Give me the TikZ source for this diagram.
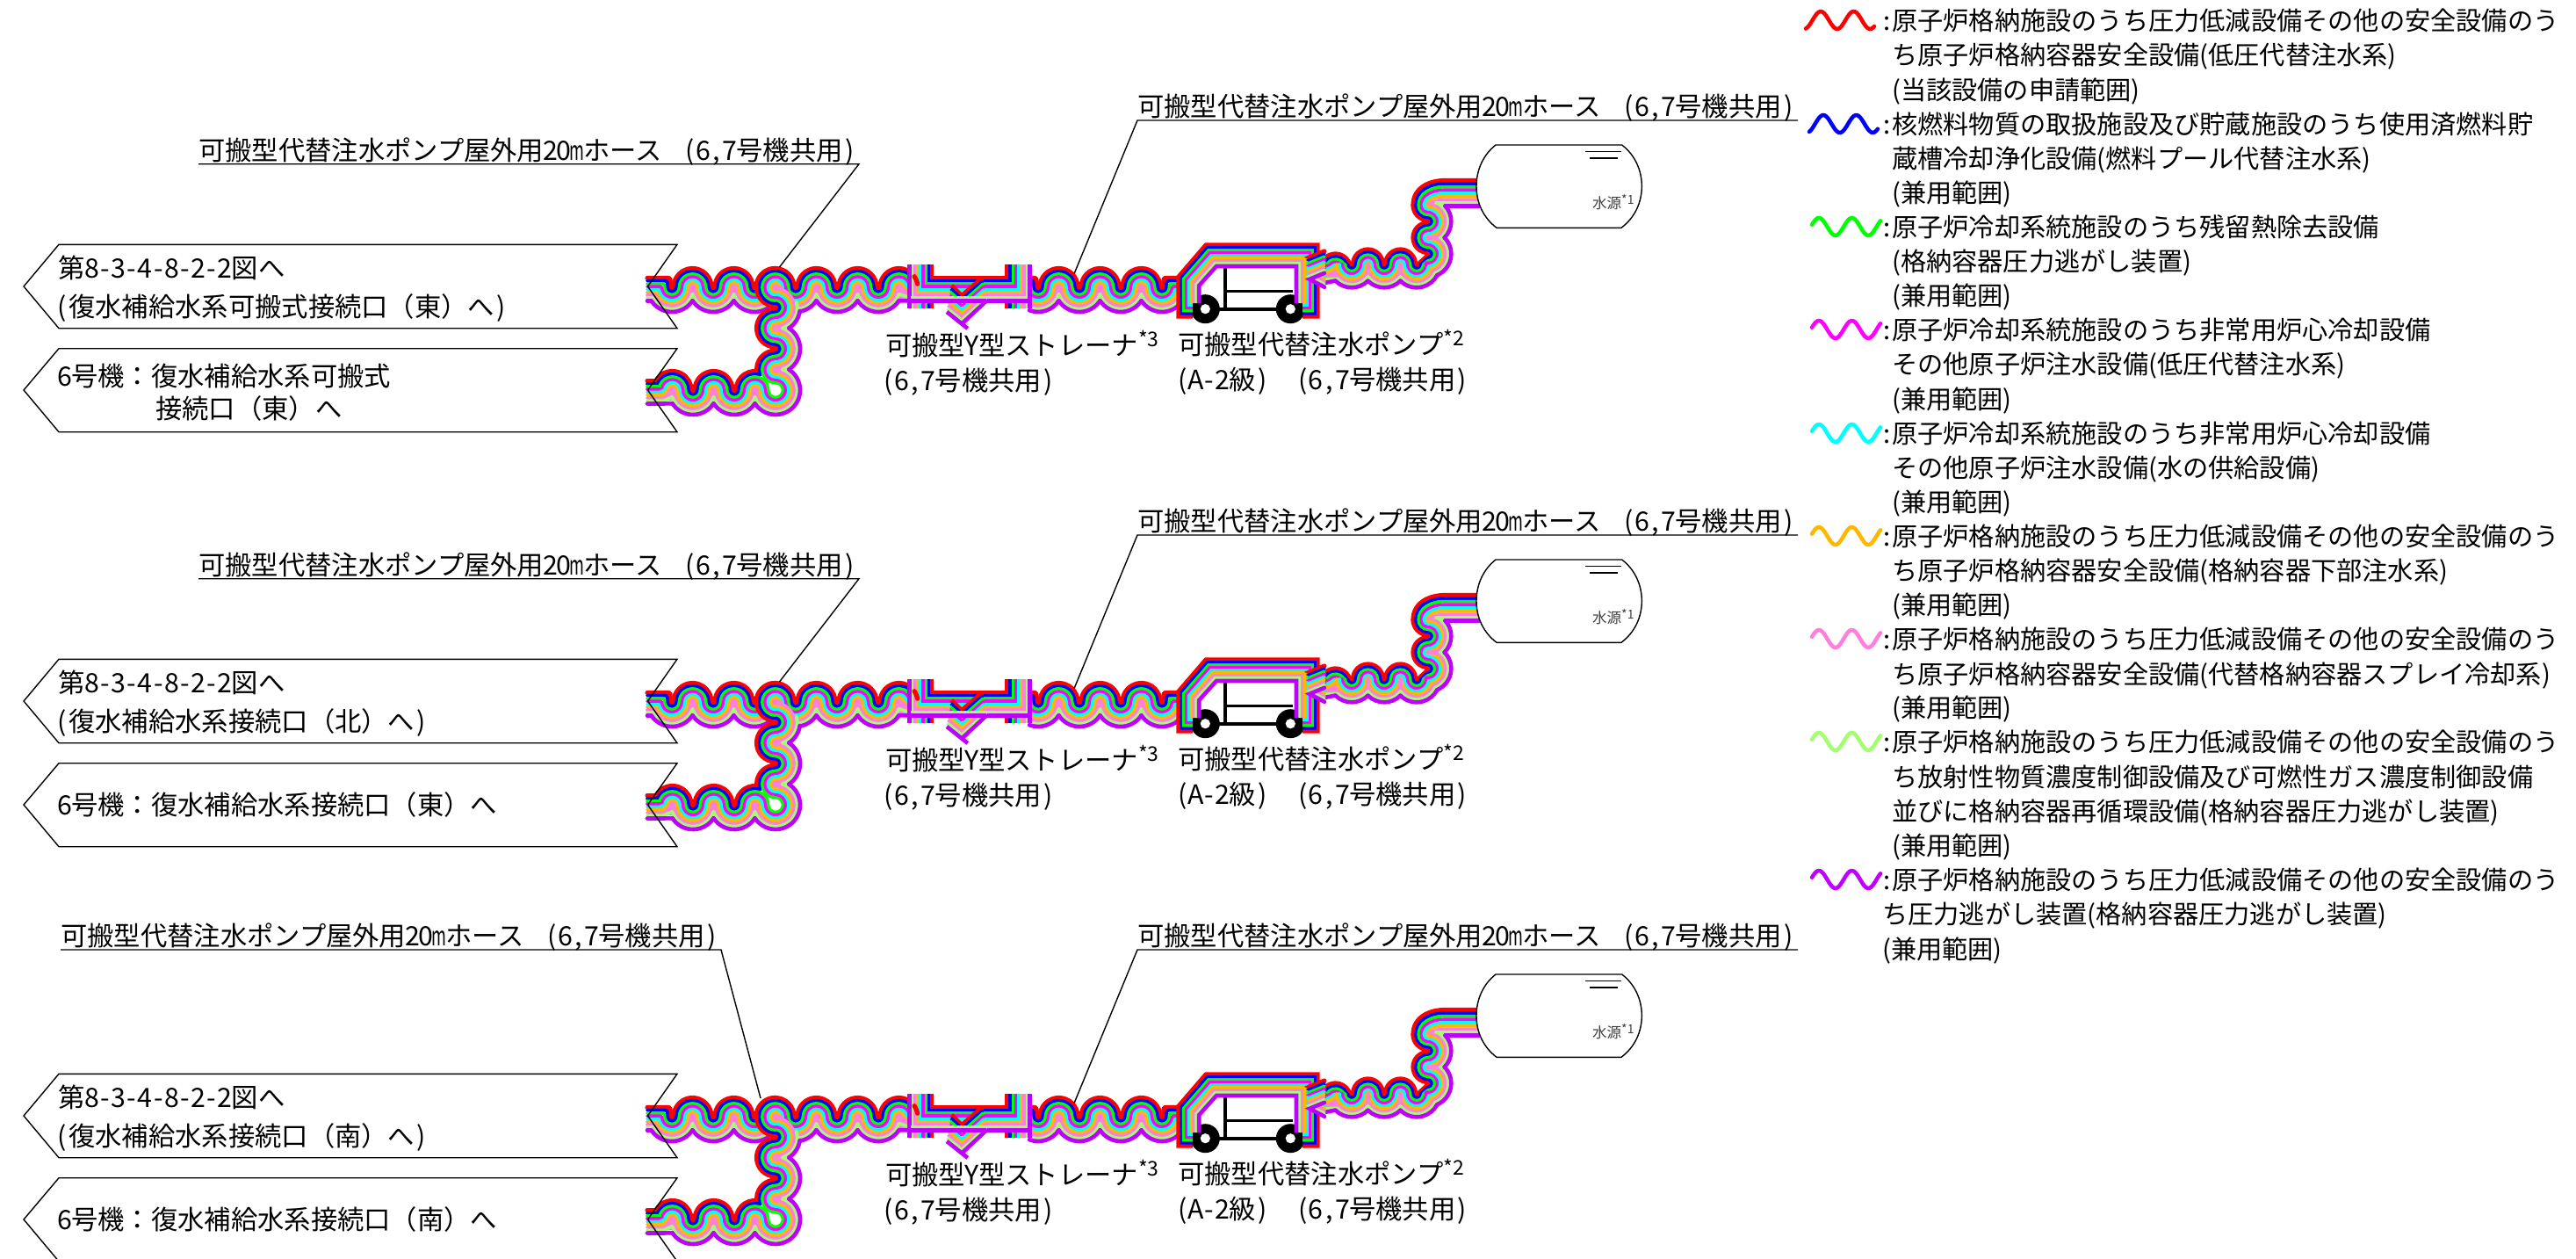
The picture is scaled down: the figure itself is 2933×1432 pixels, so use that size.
\documentclass[tikz,border=0pt]{standalone}
\usepackage{graphicx}
\usepackage{fontspec}
\setmainfont{Noto Sans CJK JP}
\definecolor{h0}{HTML}{FF0000}
\definecolor{h1}{HTML}{0000FF}
\definecolor{h2}{HTML}{00FF00}
\definecolor{h3}{HTML}{FF00FF}
\definecolor{h4}{HTML}{00FFFF}
\definecolor{h5}{HTML}{FFB800}
\definecolor{h6}{HTML}{FF80DC}
\definecolor{h7}{HTML}{A4FF70}
\definecolor{h8}{HTML}{C000FF}
\tikzset{
 hose/.style={draw=h\i,line width=\lw pt,line cap=round,line join=round},
 hoseb/.style={draw=h\i,line width=\lw pt,line cap=butt,line join=miter},
 lab/.style={anchor=base west,inner sep=0pt,font=\fontsize{30.3}{36}\selectfont},
 leg/.style={anchor=base west,inner sep=0pt,font=\fontsize{29.2}{36}\selectfont},
 thinl/.style={draw=black,line width=1.4pt,line join=miter},
 legw/.style={line width=4.5pt,line cap=round}
}
\newcommand\hw[1]{\makebox[15.15pt][c]{#1}}
\newcommand\sx{\hw{6}\hw{,}\hw{7}}
\newcommand\fig{\hw{8}\hw{-}\hw{3}\hw{-}\hw{4}\hw{-}\hw{8}\hw{-}\hw{2}\hw{-}\hw{2}}
\newcommand\hosetxt{可搬型代替注水ポンプ屋外用\hw{2}\hw{0}\hw{\scalebox{.6}[1]{m}}ホース\hspace{24pt}\hw{(}\sx 号機共用\hw{)}}
\newcommand\supr[1]{\raisebox{.33em}{\fontsize{23}{23}\selectfont #1}}
\newcommand\SetW{\ifnum\i=0 \def\lw{5.2}\else\ifnum\i=8 \def\lw{4.6}\else\def\lw{3.7}\fi\fi}
\newcommand\SetR[3]{\pgfmathsetmacro\ru{#1-#2*\i}\pgfmathsetmacro\rd{#3-\ru}\def\hh{#3}%
 \ifdim\ru pt>0.05pt \def\aS{180}\def\aE{360}\else
 \pgfmathsetmacro\ph{asin(\hh/\rd)}\pgfmathsetmacro\aS{270-\ph}\pgfmathsetmacro\aE{270+\ph}\fi}
\newcommand\Arc[5]{\draw[hose] ({#1+(#3)*cos(#4)},{-(#2)+(#3)*sin(#4)}) arc[start angle={#4},end angle={#5},radius={(#3)*1pt}];}
\newcommand\Hump[3]{\ifdim\ru pt>0.05pt \Arc{#1}{#2}{\ru}{180+#3}{#3}\fi
 \ifnum\i=6 \draw[hose,line width=5pt] (#1,{-(#2)}) -- ({#1+6*sin(#3)},{-(#2)-6*cos(#3)});\fi}
\newcommand\Dip[3]{\Arc{#1}{#2}{\rd}{\aS+#3}{\aE+#3}}
\newcommand\StubIn[3]{\pgfmathsetmacro\off{-10.5+3.25*\i}\pgfmathsetmacro\yy{#2+\off}%
 \ifnum\i<4
  \draw[hose,rounded corners=2pt] ({#3},{-\yy}) -- ({#1-\rd},{-\yy}) -- ({#1-\rd},{-(#2)});
  \Arc{#1}{#2}{\rd}{180}{\aE}
 \else
  \pgfmathsetmacro\aa{max(180+asin(\off/\rd),180+acos(min((#1-#3)/\rd,1)))}%
  \pgfmathsetmacro\px{#1+\rd*cos(\aa)}%
  \ifdim\px pt>#3pt \draw[hose] ({#3},{-\yy}) -- (\px,{-\yy}); \fi
  \Arc{#1}{#2}{\rd}{\aa}{\aE}
 \fi}
\newcommand\DipOut[3]{\pgfmathsetmacro\off{-10.5+3.25*\i}\pgfmathsetmacro\yy{#2+\off}%
 \ifnum\i<4
  \Arc{#1}{#2}{\rd}{\aS}{360}
  \draw[hose,rounded corners=2pt] ({#1+\rd},{-(#2)}) -- ({#1+\rd},{-\yy}) -- ({#3},{-\yy});
 \else
  \pgfmathsetmacro\aa{360-asin(\off/\rd)}%
  \Arc{#1}{#2}{\rd}{\aS}{\aa}
  \draw[hose] ({#1+\rd*cos(\aa)},{-\yy}) -- ({#3},{-\yy});
 \fi}
\newcommand\Block[1]{%
 % underlays that close small wedges between the bands
 \fill[h6] (1023,-327) rectangle (1037,-341);
 \fill[h6] (750,-444) rectangle (765.5,-456);
 % ---- left run to the strainer
 \foreach \i in {0,...,8}{\SetW\SetR{21.5}{3.25}{23.5}%
  \StubIn{765}{327}{737}
  \Hump{788.5}{327}{0}\Dip{812}{327}{0}\Hump{835.5}{327}{0}\Dip{859}{327}{0}\Hump{882.5}{327}{0}%
  \Dip{906}{327}{0}\Hump{929.5}{327}{0}\Dip{953}{327}{0}\Hump{976.5}{327}{0}\Dip{1000}{327}{0}\Hump{1023.5}{327}{0}%
  \pgfmathsetmacro\yy{316.5+3.25*\i}%
  \ifnum\i>6 \pgfmathsetmacro\cy{327+sqrt(\rd*\rd-23.5*23.5)}\draw[hose] (1023.5,{-\cy}) -- (1037,{-\yy});
  \else\ifnum\i>2 \draw[hose] ({1023.5+\ru},-327) -- (1037,{-\yy});\fi\fi
  % wave right of the strainer
  \StubIn{1182}{327}{1172}
  \Hump{1205.5}{327}{0}\Dip{1229}{327}{0}\Hump{1252.5}{327}{0}\Dip{1276}{327}{0}\Hump{1299.5}{327}{0}%
  \DipOut{1323}{327}{1342+2.9*\i}
 }
 % ---- flanges, pipe, strainer
 \foreach \i in {0,...,8}{\SetW
  \draw[hoseb] ({1060-3.1*\i},-301) -- ({1060-3.1*\i},-351);
  \draw[hoseb] ({1147+3.2*\i},-301) -- ({1147+3.2*\i},-351);
  \pgfmathsetmacro\yy{316.5+3.25*\i}%
  \draw[hoseb] ({1060-3.1*\i},{-\yy}) -- ({1147+3.2*\i},{-\yy});
 }
 \foreach \i in {0,...,8}{\SetW
  \pgfmathsetmacro\yy{316.5+3.25*\i}\pgfmathsetmacro\vx{1095+.1*\i}\pgfmathsetmacro\vy{336.7+3.9*\i}%
  \ifnum\i>3 \draw[hoseb] ({1083.3-.66*\i},{-(325+3.75*\i)}) -- ({\vx+6},{-\vy-6});
  \else \draw[hoseb] ({1083.3-.66*\i},{-(325+3.75*\i)}) -- (\vx,{-\vy}); \fi
  \draw[hoseb] (\vx,{-\vy}) -- ({1118.3+.6*\i},{-\yy});
 }
 \foreach \i in {7,8}{\SetW\pgfmathsetmacro\yy{316.5+3.25*\i}\draw[hoseb] (1037,{-\yy}) -- ({1118.3+.6*\i},{-\yy});}
 \foreach \i in {0}{\SetW\Arc{1023.5}{327}{21.5}{35}{10}}
 % ---- branch and lower run
 \foreach \i in {0,...,8}{\SetW\SetR{21.5}{3.25}{23.5}%
  \pgfmathsetmacro\off{-10.5+3.25*\i}\pgfmathsetmacro\yy{444+\off}%
  \ifnum\i<4 \pgfmathsetmacro\aa{180-asin(abs(\off)/\ru)}\Arc{765.5}{444}{\ru}{\aa}{0}
    \draw[hose] (737,{-\yy}) -- ({765.5+\ru*cos(\aa)},{-\yy});
  \else\ifnum\i<7 \draw[hose] (737,{-\yy}) -- ({759.5-\ru},{-\yy}) -- ({765.5-\ru},-444); \Hump{765.5}{444}{0}
  \else \pgfmathsetmacro\cy{444+sqrt(\rd*\rd-23.5*23.5)}\draw[hose] (737,{-\yy}) -- (755,{-\yy}) -- (765.5,{-\cy}); \fi\fi
  \Dip{789}{444}{0}\Hump{812.5}{444}{0}\Dip{836}{444}{0}%
  \ifnum\i<2 \Arc{859.5}{444}{\ru}{180}{70}\Arc{883}{420.5}{\ru}{195}{90}%
  \else
   \Hump{859.5}{444}{0}%
   \ifnum\i<7 \Arc{883}{444}{\rd}{180}{450}\else\Arc{883}{444}{\rd}{\aS}{\aE+90}\fi
   \Hump{883}{420.5}{90}%
  \fi
  \Dip{883}{397}{90}\Hump{883}{373.5}{90}%
  \ifnum\i=8 \Arc{883}{350}{\rd}{\aS+90}{352}\else\ifnum\i=7 \Arc{883}{350}{\rd}{\aS+90}{375}\else\Dip{883}{350}{90}\fi\fi
  \Hump{883}{327}{90}%
 }
 % ---- pump frame, wheels
 \fill[black] (1372.3,-351.7) circle[radius=16.5pt] (1469.3,-351.7) circle[radius=16.5pt];
 \draw[black,line width=3.4pt] (1395,-305) -- (1395,-352);
 \draw[black,line width=3pt] (1395,-331.7) -- (1472,-331.7);
 \draw[black,line width=4pt] (1372,-351.7) -- (1469,-351.7);
 \fill[white] (1372.3,-351.7) circle[radius=5.6pt] (1469.3,-351.7) circle[radius=5.6pt];
 \foreach \i in {0,...,8}{\SetW
  \pgfmathsetmacro\xl{1342+2.9*\i}\pgfmathsetmacro\xr{1500-3*\i}\pgfmathsetmacro\yt{279+3*\i}%
  \pgfmathsetmacro\yd{315+1.25*\i}\pgfmathsetmacro\xu{1373+1.5*\i}\pgfmathsetmacro\yb{360-3.25*\i}%
  \ifnum\i<6
   \draw[hoseb] (1358,{-\yb}) -- (\xl,{-\yb}) -- (\xl,{-\yd}) -- (\xu,{-\yt}) -- (\xr,{-\yt}) -- (\xr,{-\yb}) -- (1483,{-\yb});
  \else
   \draw[hoseb] (\xl,-345) -- (\xl,{-\yd}) -- (\xu,{-\yt}) -- (\xr,{-\yt}) -- (\xr,-345);
  \fi}
 % ---- wave from the pump to the tank
 \fill[h6] (1509,-305) rectangle (1530,-318);
 \foreach \i in {0,...,8}{\SetW\SetR{17}{3.1}{18.5}%
  \pgfmathsetmacro\sy{293+3.6*\i}\pgfmathsetmacro\yt{205.5+3.6*\i}%
  \ifnum\i<6
   \draw[hose] (1509,{-\sy}) -- ({1520.5+\ru*cos(150)},{-306+\ru*sin(150)});
   \Arc{1520.5}{306}{\ru}{150}{0}
   \draw[hose] ({1520.5+\ru},-306) -- ({1539-\rd},-301);
   \Dip{1539}{301}{0}%
  \else
   \draw[hose] (1509,{-\sy}) -- ({1539+\rd*cos(225)},{-301+\rd*sin(225)});
   \Arc{1539}{301}{\rd}{225}{\aE}
  \fi
  \Hump{1557.5}{301}{0}\Dip{1576}{301}{0}\Hump{1594.5}{301}{0}%
  \ifdim\rd pt>8.85pt
   \pgfmathsetmacro\al{acos(8.85/\rd)}%
   \Arc{1613}{301}{\rd}{\aS}{402.7-\al}
   \ifnum\i<6 \Arc{1626}{289}{\rd}{222.7+\al}{450}\else\Arc{1626}{289}{\rd}{222.7+\al}{\aE+90}\fi
  \else
   \Arc{1613}{301}{\rd}{\aS}{\aE}
   \draw[hose] ({1613+\rd},-301) -- (1626,{-289-\rd});
   \Arc{1626}{289}{\rd}{270}{450}
  \fi
  \Hump{1626}{270.5}{90}%
  \ifnum\i<6
   \Dip{1626}{252}{90}%
   \Arc{1626}{233.5}{\ru}{270}{180}
   \draw[hose] ({1626-\ru},-233.5) .. controls ({1626-\ru},{-\yt-8}) and ({1628},{-\yt}) .. (1645,{-\yt}) -- (1684,{-\yt});
  \else\ifnum\i=6
   \Arc{1626}{252}{\rd}{\aS+90}{450}
   \draw[hose] (1626,{-252+\rd}) -- (1640,{-\yt}) -- (1684,{-\yt});
  \else
   \pgfmathsetmacro\ae{asin((252-\yt)/\rd)}%
   \Arc{1626}{252}{\rd}{\aS+90}{360+\ae}
   \draw[hose] ({1626+\rd*cos(\ae)},{-\yt}) -- (1684,{-\yt});
  \fi\fi
 }
 \foreach \i in {0,...,8}{\SetW\pgfmathsetmacro\tt{293+3.1*\i}%
  \draw[hose,line join=miter] (1508,{-\tt+7}) -- (1491,{-\tt}) -- (1508,{-\tt-9});}
 % ---- tank
 \coordinate (#1ta) at (1703,-165);\coordinate (#1tb) at (1846.7,-165);
 \coordinate (#1tc) at (1846,-259.3);\coordinate (#1td) at (1704,-259.3);
 \fill[white] (#1ta) -- (#1tb) .. controls (1861,-176) and (1869.3,-193) .. (1869.3,-212) .. controls (1869.3,-231) and (1861,-248) .. (#1tc) -- (#1td) .. controls (1689,-248) and (1681,-231) .. (1681,-212) .. controls (1681,-193) and (1689,-176) .. (#1ta) -- cycle;
 \draw[thinl] (#1ta) -- (#1tb) .. controls (1861,-176) and (1869.3,-193) .. (1869.3,-212) .. controls (1869.3,-231) and (1861,-248) .. (#1tc) -- (#1td) .. controls (1689,-248) and (1681,-231) .. (1681,-212) .. controls (1681,-193) and (1689,-176) .. (#1ta) -- cycle;
 \draw[thinl] (1805,-172.3) -- (1846,-172.3);
 \draw[thinl] (1810,-180) -- (1841.7,-180);
 \node[anchor=base west,inner sep=0pt,text=black!75,font=\fontsize{16.5}{20}\selectfont] (#1src) at (1813,-237) {水源\raisebox{.3em}{\fontsize{14}{14}\selectfont *1}};
 % ---- labels
 \node[lab] (#1hoseR) at (1295,-132.7) {\hosetxt};
 \coordinate (#1ra) at (1295,-137);\coordinate (#1rb) at (2047,-137);\coordinate (#1rc) at (1223,-311.7);
 \draw[thinl] (#1rb) -- (#1ra) -- (#1rc);
 \node[lab] (#1str) at (1008,-404) {可搬型\hw{Y}型ストレーナ\supr{*3}};
 \node[lab] (#1strb) at (1004,-444) {\hw{(}\sx 号機共用\hw{)}};
 \node[lab] (#1pmp) at (1341,-403) {可搬型代替注水ポンプ\supr{*2}};
 \node[lab] (#1pmpb) at (1339,-443) {\hw{(}\hw{A}\hw{-}\hw{2}級\hw{)}　\hw{(}\sx 号機共用\hw{)}};
 % ---- left boxes
 \coordinate (#1aa) at (771,-278.3);\coordinate (#1ab) at (67,-278.3);\coordinate (#1ac) at (27,-326);
 \coordinate (#1ad) at (67,-373.7);\coordinate (#1ae) at (771,-373.7);\coordinate (#1af) at (737.5,-326);
 \draw[thinl] (#1aa) -- (#1ab) -- (#1ac) -- (#1ad) -- (#1ae) -- (#1af) -- cycle;
 \coordinate (#1ba) at (771,-396.7);\coordinate (#1bb) at (67,-396.7);\coordinate (#1bc) at (27,-444);
 \coordinate (#1bd) at (67,-491.7);\coordinate (#1be) at (771,-491.7);\coordinate (#1bf) at (737.5,-444);
 \draw[thinl] (#1ba) -- (#1bb) -- (#1bc) -- (#1bd) -- (#1be) -- (#1bf) -- cycle;
}
\newcommand\TopLeader[7]{% name, textx, x0, x1, y, tipx, tipy
 \node[lab] (#1hoseL) at (#2,{-(#5)+4.3}) {\hosetxt};
 \coordinate (#1la) at (#3,-#5);\coordinate (#1lb) at (#4,-#5);\coordinate (#1lc) at (#6,-#7);
 \draw[thinl] (#1la) -- (#1lb) -- (#1lc);}
\begin{document}
\begin{tikzpicture}[x=1pt,y=1pt]
\useasboundingbox (0,0) rectangle (2933,-1432);
\fill[white] (0,0) rectangle (2933,-1432);
\begin{scope}
 \Block{A}
 \TopLeader{A}{226}{226}{978}{186.7}{887.5}{304}
 \node[lab] (Ab1) at (66.7,-316) {第\fig 図へ};
 \node[lab] (Ab2) at (63,-360) {\hw{(}復水補給水系可搬式接続口（東）へ\hw{)}};
 \node[lab] (Ab3) at (66,-439) {\hw{6}号機：復水補給水系可搬式};
 \node[lab] (Ab4) at (177,-476) {接続口（東）へ};
\end{scope}
\begin{scope}[yshift=-472pt]
 \Block{B}
 \TopLeader{B}{226}{226}{978}{186.7}{887.5}{304}
 \node[lab] (Bb1) at (66.7,-316) {第\fig 図へ};
 \node[lab] (Bb2) at (63,-360) {\hw{(}復水補給水系接続口（北）へ\hw{)}};
 \node[lab] (Bb3) at (66,-455) {\hw{6}号機：復水補給水系接続口（東）へ};
\end{scope}
\begin{scope}[yshift=-944pt]
 \Block{C}
 \TopLeader{C}{69}{69}{821}{137}{866}{306}
 \node[lab] (Cb1) at (66.7,-316) {第\fig 図へ};
 \node[lab] (Cb2) at (63,-360) {\hw{(}復水補給水系接続口（南）へ\hw{)}};
 \node[lab] (Cb3) at (66,-455) {\hw{6}号機：復水補給水系接続口（南）へ};
\end{scope}
% ---- legend
\foreach \yy/\xx/\tx [count=\n] in {
 23/2154/原子炉格納施設のうち圧力低減設備その他の安全設備のう,
 62.5/2154/ち原子炉格納容器安全設備(低圧代替注水系),
 102/2154/(当該設備の申請範囲),
 141/2154/核燃料物質の取扱施設及び貯蔵施設のうち使用済燃料貯,
 180/2154/蔵槽冷却浄化設備(燃料プール代替注水系),
 219/2154/(兼用範囲),
 258/2154/原子炉冷却系統施設のうち残留熱除去設備,
 297/2154/(格納容器圧力逃がし装置),
 336/2154/(兼用範囲),
 375/2154/原子炉冷却系統施設のうち非常用炉心冷却設備,
 414/2154/その他原子炉注水設備(低圧代替注水系),
 454/2154/(兼用範囲),
 493/2154/原子炉冷却系統施設のうち非常用炉心冷却設備,
 532/2154/その他原子炉注水設備(水の供給設備),
 571/2154/(兼用範囲),
 610/2154/原子炉格納施設のうち圧力低減設備その他の安全設備のう,
 649/2154/ち原子炉格納容器安全設備(格納容器下部注水系),
 688/2154/(兼用範囲),
 727/2154/原子炉格納施設のうち圧力低減設備その他の安全設備のう,
 767/2154/ち原子炉格納容器安全設備(代替格納容器スプレイ冷却系),
 805/2154/(兼用範囲),
 844/2154/原子炉格納施設のうち圧力低減設備その他の安全設備のう,
 884/2154/ち放射性物質濃度制御設備及び可燃性ガス濃度制御設備,
 923/2154/並びに格納容器再循環設備(格納容器圧力逃がし装置),
 962/2154/(兼用範囲),
 1001/2154/原子炉格納施設のうち圧力低減設備その他の安全設備のう,
 1040/2143/ち圧力逃がし装置(格納容器圧力逃がし装置),
 1080/2143/(兼用範囲)}{
 \node[leg] (lg\n) at (\xx,{-\yy-11}) {\tx};
}
\foreach \yy/\cc/\xa/\xb/\pk [count=\n] in {
 23/h0/2056/2134/2073, 141/h1/2060/2138/2076, 258/h2/2063/2141/2071, 375/h3/2063/2141/2071,
 493/h4/2063/2141/2071, 610/h5/2063/2141/2071, 727/h6/2063/2141/2071, 844/h7/2063/2141/2071, 1001/h8/2063/2141/2071}{
 \draw[legw,draw=\cc] plot[domain=\xa:\xb,samples=50,smooth] (\x,{-\yy+10*cos((\x-\pk)*9.6)});
 \node[anchor=base,inner sep=0pt,font=\fontsize{29.2}{36}\selectfont] (cl\n) at (2149,{-\yy-11}) {:};
}
\end{tikzpicture}
\end{document}
